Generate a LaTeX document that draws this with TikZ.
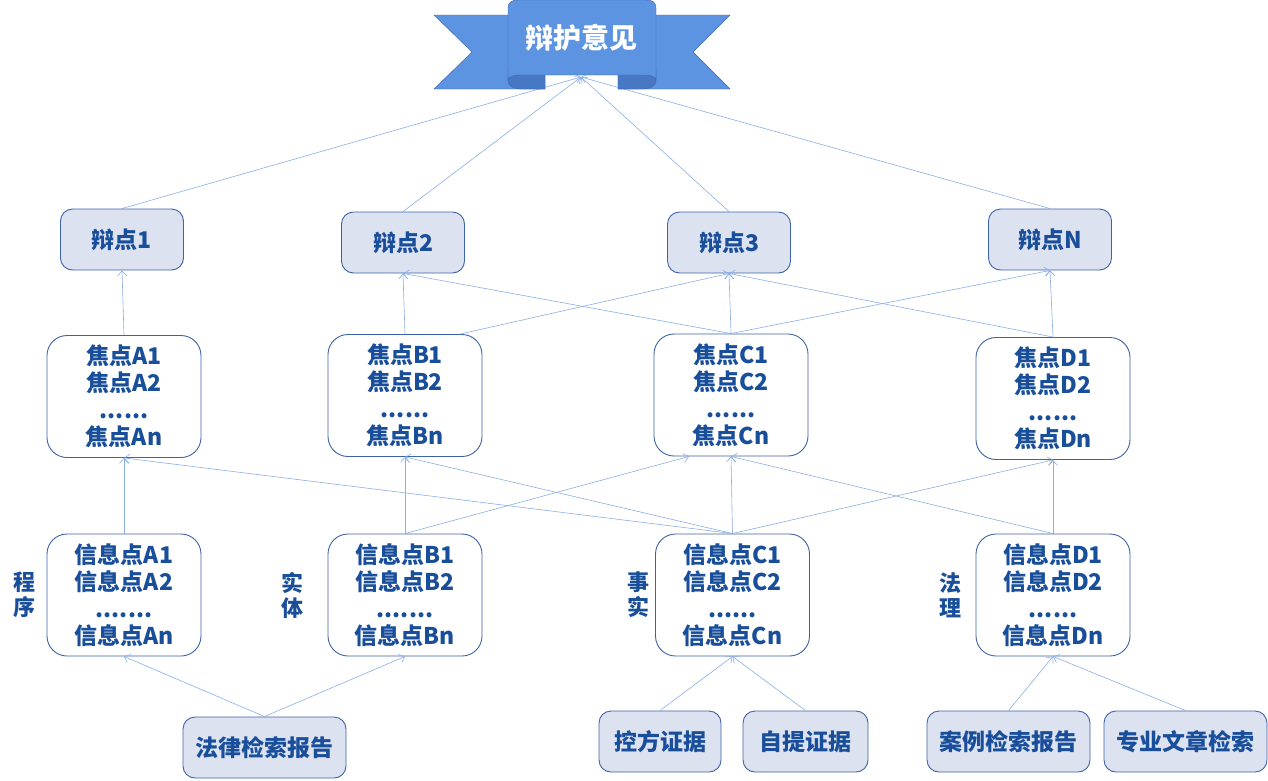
\documentclass[tikz,border=0pt]{standalone}
\usepackage{fontspec}
\setmainfont{Noto Sans CJK SC}
\usetikzlibrary{arrows.meta,positioning}

\definecolor{txtblue}{RGB}{24,78,154}
\definecolor{edgeblue}{RGB}{62,98,166}
\definecolor{fillgrey}{RGB}{221,226,241}
\definecolor{linkblue}{RGB}{138,174,232}
\definecolor{ribbon}{RGB}{92,148,226}
\definecolor{ribbondark}{RGB}{70,120,196}
\definecolor{ribbonedge}{RGB}{62,100,170}

\tikzstyle{point} = [draw=edgeblue, line width=0.9pt, fill=fillgrey, rectangle, rounded corners=12pt, minimum width=123pt, minimum height=61pt, text=txtblue, font=\fontsize{23}{26}\selectfont\bfseries]
\tikzstyle{focus} = [draw=edgeblue, line width=0.9pt, fill=white, rectangle, rounded corners=20pt, minimum width=154pt, minimum height=122pt, align=center, text=txtblue, font=\fontsize{23}{27}\selectfont\bfseries]
\tikzstyle{source} = [point, minimum width=122pt]
\tikzstyle{side} = [align=center, text=txtblue, font=\fontsize{22}{25}\selectfont\bfseries]
\tikzstyle{arrow} = [draw=linkblue, line width=0.6pt, -{Straight Barb[length=5pt,width=9pt]}]

\begin{document}
\begin{tikzpicture}[x=1pt, y=1pt, node distance=157pt]
  \useasboundingbox (0,0) rectangle (1268,-780);
  \coordinate (tip) at (581,-77);

  \node [point] (b1) at (122,-239.5) {辩点1};
  \node [point, right of=b1, node distance=281pt, yshift=-3pt] (b2) {辩点2};
  \node [point, right of=b2, node distance=326pt] (b3) {辩点3};
  \node [point, right of=b3, node distance=321pt, yshift=3pt] (bn) {辩点N};

  \node [focus, below of=b1, node distance=157pt, xshift=2pt] (fa) {焦点A1\\焦点A2\\......\\焦点An};
  \node [focus, below of=b2, node distance=153pt, xshift=2pt] (fb) {焦点B1\\焦点B2\\......\\焦点Bn};
  \node [focus, below of=b3, node distance=152.5pt, xshift=2pt] (fc) {焦点C1\\焦点C2\\......\\焦点Cn};
  \node [focus, below of=bn, node distance=159pt, xshift=3pt] (fd) {焦点D1\\焦点D2\\......\\焦点Dn};

  \node [focus, below of=fa, node distance=198.5pt] (ia) {信息点A1\\信息点A2\\.......\\信息点An};
  \node [focus, below of=fb, node distance=199.5pt] (ib) {信息点B1\\信息点B2\\.......\\信息点Bn};
  \node [focus, below of=fc, node distance=200pt, xshift=1.5pt] (ic) {信息点C1\\信息点C2\\......\\信息点Cn};
  \node [focus, below of=fd, node distance=196.5pt] (id) {信息点D1\\信息点D2\\......\\信息点Dn};

  \node [side, left of=ia, node distance=100pt] (proc) {程\\序};
  \node [side, left of=ib, node distance=113pt] (subst) {实\\体};
  \node [side, left of=ic, node distance=94pt] (fact) {事\\实};
  \node [side, left of=id, node distance=103pt] (law) {法\\理};

  \node [source, minimum width=163pt] (lawrep) at (264.5,-747.5) {法律检索报告};
  \node [source] (pros) at (660,-741.5) {控方证据};
  \node [source, minimum width=125pt, right of=pros, node distance=145.5pt] (self) {自提证据};
  \node [source, minimum width=163pt, right of=self, node distance=203pt] (caserep) {案例检索报告};
  \node [source, minimum width=163pt, right of=caserep, node distance=177pt] (paper) {专业文章检索};

  \draw [arrow] (b1.north) -- (tip);
  \draw [arrow] (b2.north) -- (tip);
  \draw [arrow] (b3.north) -- (tip);
  \draw [arrow] (bn.north) -- (tip);

  \draw [arrow] (fa.north) -- (b1.south);
  \draw [arrow] (fb.north) -- (b2.south);
  \draw [arrow] ([xshift=55pt]fb.north) -- (b3.south);
  \draw [arrow] (fc.north) -- (b2.south);
  \draw [arrow] (fc.north) -- (b3.south);
  \draw [arrow] (fc.north) -- (bn.south);
  \draw [arrow] (fd.north) -- (b3.south);
  \draw [arrow] (fd.north) -- (bn.south);

  \draw [arrow] (ia.north) -- (fa.south);
  \draw [arrow] (ib.north) -- (fb.south);
  \draw [arrow] (ib.north) -- ([xshift=-42pt]fc.south);
  \draw [arrow] (ic.north) -- (fa.south);
  \draw [arrow] (ic.north) -- (fb.south);
  \draw [arrow] (ic.north) -- (fc.south);
  \draw [arrow] (ic.north) -- (fd.south);
  \draw [arrow] (id.north) -- (fc.south);
  \draw [arrow] (id.north) -- (fd.south);

  \draw [arrow] (lawrep.north) -- (ia.south);
  \draw [arrow] (lawrep.north) -- (ib.south);
  \draw [arrow] (pros.north) -- (ic.south);
  \draw [arrow] (self.north) -- (ic.south);
  \draw [arrow] (caserep.north) -- (id.south);
  \draw [arrow] (paper.north) -- (id.south);

  % ribbon
  \filldraw [fill=ribbon, draw=ribbonedge] (434,-15) -- (545,-15) -- (545,-89) -- (434,-89) -- (472,-52) -- cycle;
  \filldraw [fill=ribbon, draw=ribbonedge] (730,-15) -- (618,-15) -- (618,-89) -- (730,-89) -- (693,-52) -- cycle;
  \filldraw [fill=ribbondark, draw=ribbonedge] (508,-70) -- (545,-70) -- (545,-89) -- (522,-89) .. controls (512,-89) and (508,-85) .. (508,-80) -- cycle;
  \filldraw [fill=ribbondark, draw=ribbonedge] (656,-70) -- (618,-70) -- (618,-89) -- (642,-89) .. controls (652,-89) and (656,-85) .. (656,-80) -- cycle;
  \filldraw [fill=ribbon, draw=ribbonedge] (508,-80) -- (508,-8) .. controls (508,-2) and (512,0) .. (518,0) -- (646,0) .. controls (652,0) and (656,-2) .. (656,-8) -- (656,-80) .. controls (656,-76) and (650,-75) .. (640,-75) -- (524,-75) .. controls (514,-75) and (508,-76) .. (508,-80) -- cycle;
  \node [font=\fontsize{28}{30}\selectfont\bfseries, text=white] (title) at (581,-38) {辩护意见};
\end{tikzpicture}
\end{document}
